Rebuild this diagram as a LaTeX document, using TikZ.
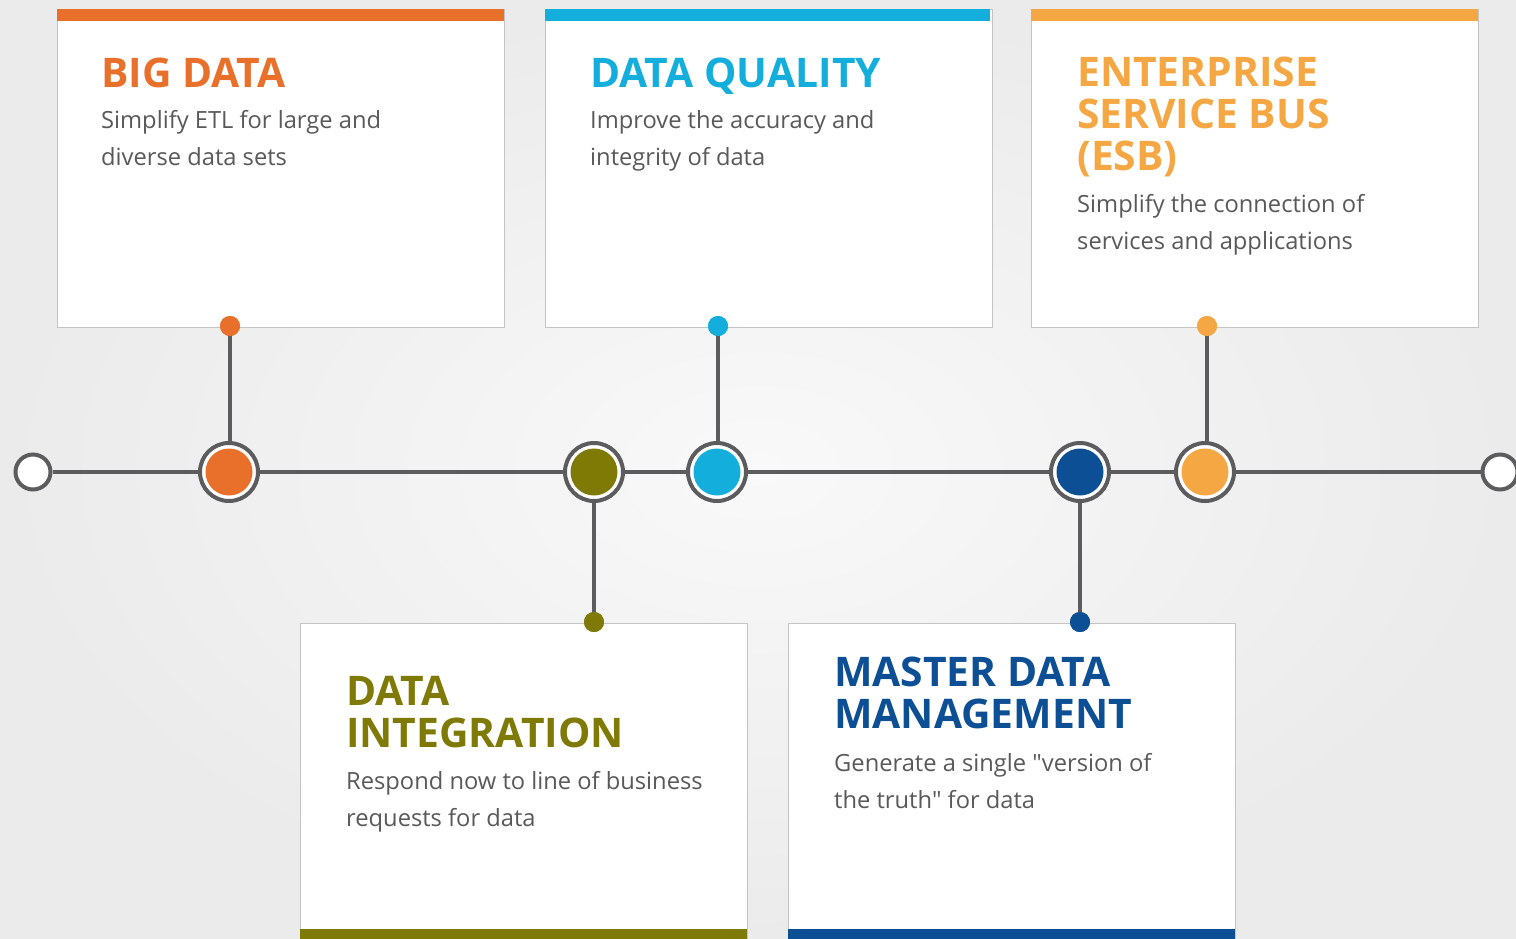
\documentclass[tikz,border=0pt]{standalone}
\usepackage{fontspec}
\setmainfont{Open Sans}
\definecolor{cOrange}{HTML}{E8702A}
\definecolor{cBlue}{HTML}{14AEDC}
\definecolor{cLight}{HTML}{F4A742}
\definecolor{cOlive}{HTML}{7F7A05}
\definecolor{cNavy}{HTML}{0D4F94}
\definecolor{lineGray}{HTML}{5C5C5E}
\definecolor{cardBorder}{HTML}{C4C4C4}
\definecolor{bodyGray}{HTML}{595959}
\definecolor{bgOut}{HTML}{EBEBEB}
\definecolor{bgIn}{HTML}{F9F9F9}
\begin{document}
\begin{tikzpicture}[x=1pt,y=-1pt,
  card/.style={draw=cardBorder, line width=1pt, fill=white, minimum width=447pt, minimum height=318pt, inner sep=0pt, anchor=north west},
  conn/.style={draw=lineGray, line width=4pt},
  dot/.style={circle, fill=#1, minimum size=20pt, inner sep=0pt},
  hub/.style={circle, draw=lineGray, line width=4pt, fill=white, minimum size=58pt, inner sep=0pt},
  endpt/.style={circle, draw=lineGray, line width=4pt, fill=white, minimum size=35pt, inner sep=0pt},
  title/.style={anchor=base west, inner sep=0pt, align=left, text=#1, font=\fontsize{40.8}{42}\selectfont\bfseries},
  body/.style={anchor=base west, inner sep=0pt, align=left, text=bodyGray, font=\fontsize{23.7}{37}\selectfont}
]
\useasboundingbox (0,0) rectangle (1516,938);
\shade[inner color=bgIn, outer color=bgOut] (0,0) rectangle (1516,938);

% cards
\node[card] (card1) at (57,9) {};
\node[card] (card2) at (545,9) {};
\node[card] (card3) at (1031,9) {};
\node[card] (card4) at (300,623) {};
\node[card] (card5) at (788,623) {};
\fill[cOrange] (57,9) rectangle (504,21);
\fill[cBlue] (545,9) rectangle (990,21);
\fill[cLight] (1031,9) rectangle (1478,21);
\fill[cOlive] (300,929) rectangle (747,941);
\fill[cNavy] (788,929) rectangle (1235,941);

% texts (anchor = baseline of last line)
\node[title=cOrange] (t1) at (101,87) {BIG DATA};
\node[body] (b1) at (101,165) {Simplify ETL for large and\\diverse data sets};
\node[title=cBlue] (t2) at (590,87) {DATA QUALITY};
\node[body] (b2) at (590,165) {Improve the accuracy and\\integrity of data};
\node[title=cLight] (t3) at (1077,170) {ENTERPRISE\\SERVICE BUS\\(ESB)};
\node[body] (b3) at (1077,249) {Simplify the connection of\\services and applications};
\node[title=cOlive] (t4) at (346,747) {DATA\\INTEGRATION};
\node[body] (b4) at (346,826) {Respond now to line of business\\requests for data};
\node[title=cNavy] (t5) at (834,728) {MASTER DATA\\MANAGEMENT};
\node[body] (b5) at (834,808) {Generate a single \textquotedbl version of\\the truth\textquotedbl{} for data};

% timeline nodes
\node[endpt] (start) at (33,472) {};
\node[endpt] (stop) at (1500,472) {};
\node[hub] (h1) at (229,472) {};
\node[hub] (h4) at (594,472) {};
\node[hub] (h2) at (717,472) {};
\node[hub] (h5) at (1080,472) {};
\node[hub] (h3) at (1205,472) {};
\draw[conn] (start) -- (h1) -- (h4) -- (h2) -- (h5) -- (h3) -- (stop);

\node[dot=cOrange] (d1) at (230,326) {};
\node[dot=cBlue] (d2) at (718,326) {};
\node[dot=cLight] (d3) at (1207,326) {};
\node[dot=cOlive] (d4) at (594,622) {};
\node[dot=cNavy] (d5) at (1080,622) {};
\draw[conn] (d1.center) -- (d1.center |- h1.north);
\draw[conn] (d2.center) -- (d2.center |- h2.north);
\draw[conn] (d3.center) -- (d3.center |- h3.north);
\draw[conn] (d4.center) -- (h4);
\draw[conn] (d5.center) -- (h5);
\node[dot=cOrange] at (d1) {};
\node[dot=cBlue] at (d2) {};
\node[dot=cLight] at (d3) {};
\node[dot=cOlive] at (d4) {};
\node[dot=cNavy] at (d5) {};

\fill[cOrange] (h1.center) circle (23.5);
\fill[cOlive] (h4.center) circle (23.5);
\fill[cBlue] (h2.center) circle (23.5);
\fill[cNavy] (h5.center) circle (23.5);
\fill[cLight] (h3.center) circle (23.5);
\end{tikzpicture}
\end{document}
